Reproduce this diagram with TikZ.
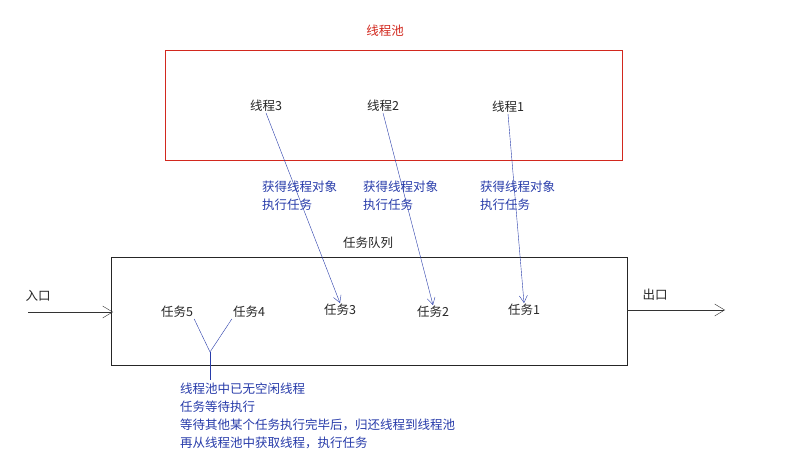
\documentclass[tikz,border=0pt]{standalone}
\usepackage{fontspec}
\setmainfont{Noto Sans CJK SC}
\usetikzlibrary{arrows.meta}
\definecolor{tblue}{RGB}{40,60,170}
\definecolor{tred}{RGB}{210,40,30}
\tikzset{
  lbl/.style={font=\fontsize{12.5}{15}\selectfont, text=black!85, inner sep=1pt},
  blbl/.style={font=\fontsize{12.5}{18}\selectfont, text=tblue, align=left, anchor=north west, inner sep=0pt},
  arr/.style={draw=tblue, -{Straight Barb[length=7pt,width=8pt]}},
  karr/.style={draw=black!80, -{Straight Barb[length=10pt,width=12pt]}}
}
\begin{document}
\begin{tikzpicture}[x=1pt,y=-1pt]
\useasboundingbox[fill=white] (0,0) rectangle (802,470);
\draw[tred] (165,50) rectangle (622,160);
\node[lbl,text=tred] (title) at (385,31) {线程池};
\node[lbl] (t3) at (266,106) {线程3};
\node[lbl] (t2) at (383,106) {线程2};
\node[lbl] (t1) at (508,107) {线程1};
\node[blbl] (g3) at (262,181) {获得线程对象\\执行任务};
\node[blbl] (g2) at (363,181) {获得线程对象\\执行任务};
\node[blbl] (g1) at (480,181) {获得线程对象\\执行任务};
\draw[black!85] (111,257) rectangle (627,365);
\node[lbl] (qt) at (368,243) {任务队列};
\node[lbl] (k5) at (177,312) {任务5};
\node[lbl] (k4) at (249,312) {任务4};
\node[lbl] (k3) at (340,310) {任务3};
\node[lbl] (k2) at (433,312) {任务2};
\node[lbl] (k1) at (524,310) {任务1};
\node[lbl] (in) at (38,296) {入口};
\node[lbl] (out) at (655,295) {出口};
\coordinate (ia) at (28,312); \coordinate (ib) at (113,312);
\coordinate (oa) at (627,310); \coordinate (ob) at (725,310);
\draw[karr] (ia) -- (ib);
\draw[karr] (oa) -- (ob);
\draw[arr] (t3.south) -- (k3.north);
\draw[arr] (t2.south) -- (k2.north);
\draw[arr] (t1.south) -- (k1.north);
\coordinate (fj) at (210,352);
\coordinate (fe) at (210,380);
\draw[tblue] (k5.south east) -- (fj) -- (k4.south west);
\draw[tblue] (fj) -- (fe);
\node[blbl] (note) at (180,383) {线程池中已无空闲线程\\任务等待执行\\等待其他某个任务执行完毕后，归还线程到线程池\\再从线程池中获取线程，执行任务};
\end{tikzpicture}
\end{document}
